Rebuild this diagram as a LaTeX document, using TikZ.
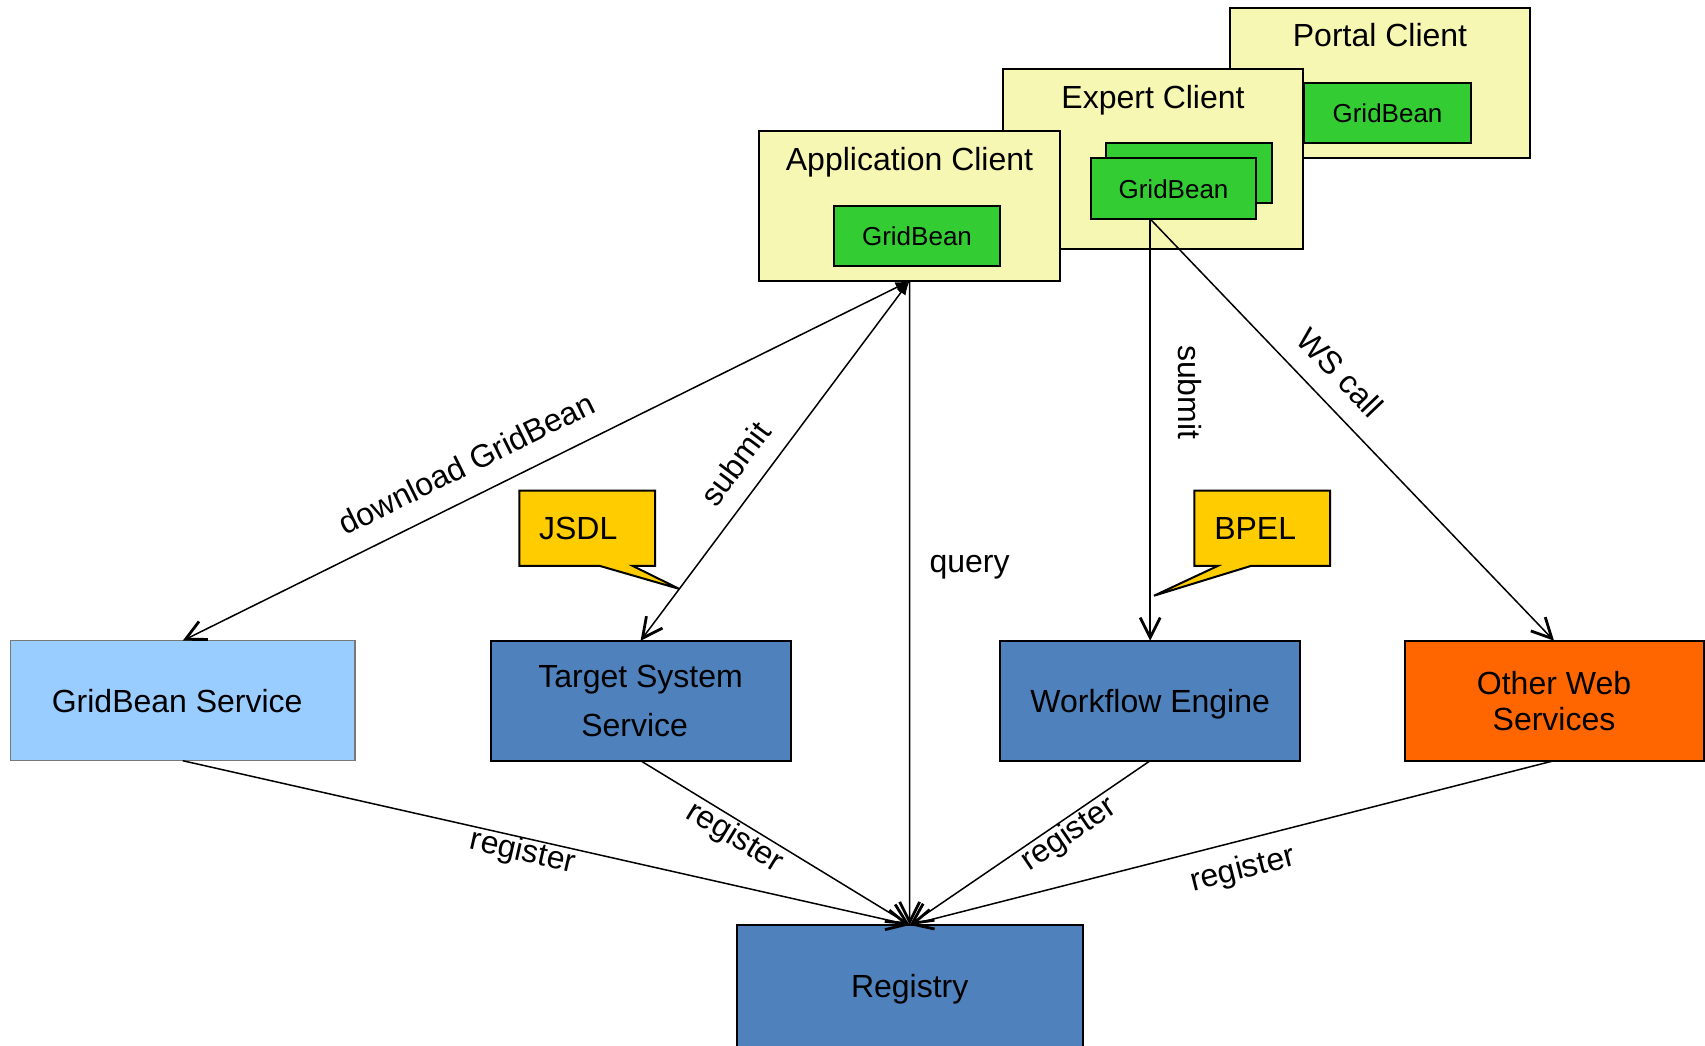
\documentclass[tikz,border=0pt]{standalone}
\usepackage{fontspec}
\setmainfont{Liberation Sans}
\usetikzlibrary{arrows.meta,calc}

\definecolor{clientyellow}{RGB}{246,247,178}
\definecolor{beangreen}{RGB}{51,204,51}
\definecolor{svcblue}{RGB}{79,129,189}
\definecolor{svclight}{RGB}{153,204,255}
\definecolor{svcorange}{RGB}{255,102,0}
\definecolor{notegold}{RGB}{255,204,0}
\definecolor{edgegray}{RGB}{120,120,120}

\newcommand\labelfont{\fontsize{32}{38}\selectfont}
\newcommand\beanfont{\fontsize{26}{31}\selectfont}

\tikzset{
  dims/.style 2 args={minimum width=#1pt, minimum height=#2pt},
  box/.style={draw=black, line width=2pt, inner sep=0pt, outer sep=0pt,
    font=\labelfont, text height=23pt, text depth=0pt, align=center},
  boxtwo/.style={draw=black, line width=2pt, inner sep=0pt, outer sep=0pt, align=center},
  clientbox/.style={draw=black, line width=2pt, fill=clientyellow, inner sep=0pt, outer sep=0pt},
  beanbox/.style={draw=black, line width=2pt, fill=beangreen, inner sep=0pt, outer sep=0pt,
    font=\beanfont, text height=19pt, text depth=0pt},
  lab/.style={font=\labelfont, inner sep=0pt, text height=23pt, text depth=0pt},
  notebox/.style={inner sep=0pt, outer sep=0pt},
  noteshape/.style={draw=black, line width=2pt, fill=notegold, line join=miter},
  conn/.style={line width=1.5pt, -{Straight Barb[length=20pt,width=20pt,line width=2.8pt]}},
  twoway/.style={line width=1.5pt,
    {Latex[length=14pt,width=11pt]}-{Straight Barb[length=20pt,width=20pt,line width=2.8pt]}}
}

\begin{document}
\begin{tikzpicture}[x=1pt, y=-1pt]
\useasboundingbox (0,0) rectangle (1705,1045);
\fill[white] (0,0) rectangle (1705,1045);

% client applications, back to front
\node[clientbox, dims={300}{149.7}] (portal) at (1380,83.2) {};
\node[lab] (portaltitle) at (1380,35.2) {Portal Client};
\node[beanbox, dims={167}{60}] (pgb) at (1387.5,113) {GridBean};

\node[clientbox, dims={300}{180}] (expert) at (1153,159) {};
\node[lab] (experttitle) at (1153,96.5) {Expert Client};
\node[beanbox, dims={166}{60}] (egbb) at (1189,173) {};
\node[beanbox, dims={165}{61}] (egbf) at (1173.5,188.5) {GridBean};

\node[clientbox, dims={301}{150}] (app) at (909.5,206) {};
\node[lab] (apptitle) at (909.5,158.5) {Application Client};
\node[beanbox, dims={166}{60}] (agb) at (917,236) {GridBean};

% services
\node[box, fill=svclight, draw=edgegray, line width=1.2pt, dims={344.5}{120}] (gbs) at (182.7,700.7) {GridBean Service\hspace*{11pt}};
\node[boxtwo, fill=svcblue, dims={300}{120}, font=\fontsize{32}{49}\selectfont] (tss) at (640.6,700.7) {Target System\\Service\hspace*{12pt}};
\node[box, fill=svcblue, dims={300.5}{120}] (we) at (1150.2,700.7) {Workflow Engine};
\node[boxtwo, fill=svcorange, dims={299}{120}, font=\fontsize{32}{36}\selectfont] (ows) at (1554,700.7) {Other Web\\Services};
\node[box, fill=svcblue, dims={346}{122}] (reg) at (909.7,986) {Registry};

% callouts
\node[notebox, dims={135.7}{75.3}] (jsdl) at (587.2,528.3) {};
\coordinate (jsdltip) at ($(app.south)!0.856!(tss.north)$);
\draw[noteshape] (jsdl.north west) -- (jsdl.north east) -- (jsdl.south east)
  -- ($(jsdl.south west)!0.836!(jsdl.south east)$) -- (jsdltip)
  -- ($(jsdl.south west)!0.594!(jsdl.south east)$) -- (jsdl.south west) -- cycle;
\node[lab] (jsdltext) at ($(jsdl.center)+(-9,0)$) {JSDL};

\node[notebox, dims={135.7}{75.3}] (bpel) at (1262.2,528.3) {};
\coordinate (bpeltip) at (1154,595.7);
\draw[noteshape] (bpel.north west) -- (bpel.north east) -- (bpel.south east)
  -- ($(bpel.south west)!0.416!(bpel.south east)$) -- (bpeltip)
  -- ($(bpel.south west)!0.172!(bpel.south east)$) -- (bpel.south west) -- cycle;
\node[lab] (bpeltext) at ($(bpel.center)+(-7,0)$) {BPEL};

% connectors from the clients
\coordinate (exout) at (we.north |- egbf.south);

\draw[twoway] (app.south) -- node[lab, sloped, pos=0.589, anchor=south, outer ysep=21.5pt] (ldl) {download GridBean} (gbs.north);
\draw[twoway] (app.south) -- node[lab, sloped, pos=0.558, anchor=south, outer ysep=19pt] (lsub) {submit} (tss.north);
\draw[conn] (app.south) -- node[lab, pos=0.434, anchor=west, outer xsep=20pt] (lq) {query} (reg.north);
\draw[conn] (exout) -- node[lab, pos=0.411, rotate=-90, anchor=south, outer ysep=28pt] (lsubw) {submit} (we.north);
\draw[conn] (exout) -- node[lab, sloped, pos=0.415, anchor=south, outer ysep=20pt] (lws) {WS call} (ows.north);

% registrations
\draw[conn] (gbs.south) -- node[lab, sloped, pos=0.472, anchor=north, outer ysep=0pt] (lr1) {register} (reg.north);
\draw[conn] (tss.south) -- node[lab, sloped, pos=0.382, anchor=north, outer ysep=2pt] (lr2) {register} (reg.north);
\draw[conn] (we.south) -- node[lab, sloped, pos=0.372, anchor=north, outer ysep=0.5pt] (lr3) {register} (reg.north);
\draw[conn] (ows.south) -- node[lab, sloped, pos=0.494, anchor=north, outer ysep=14.5pt] (lr4) {register} (reg.north);
\end{tikzpicture}
\end{document}
